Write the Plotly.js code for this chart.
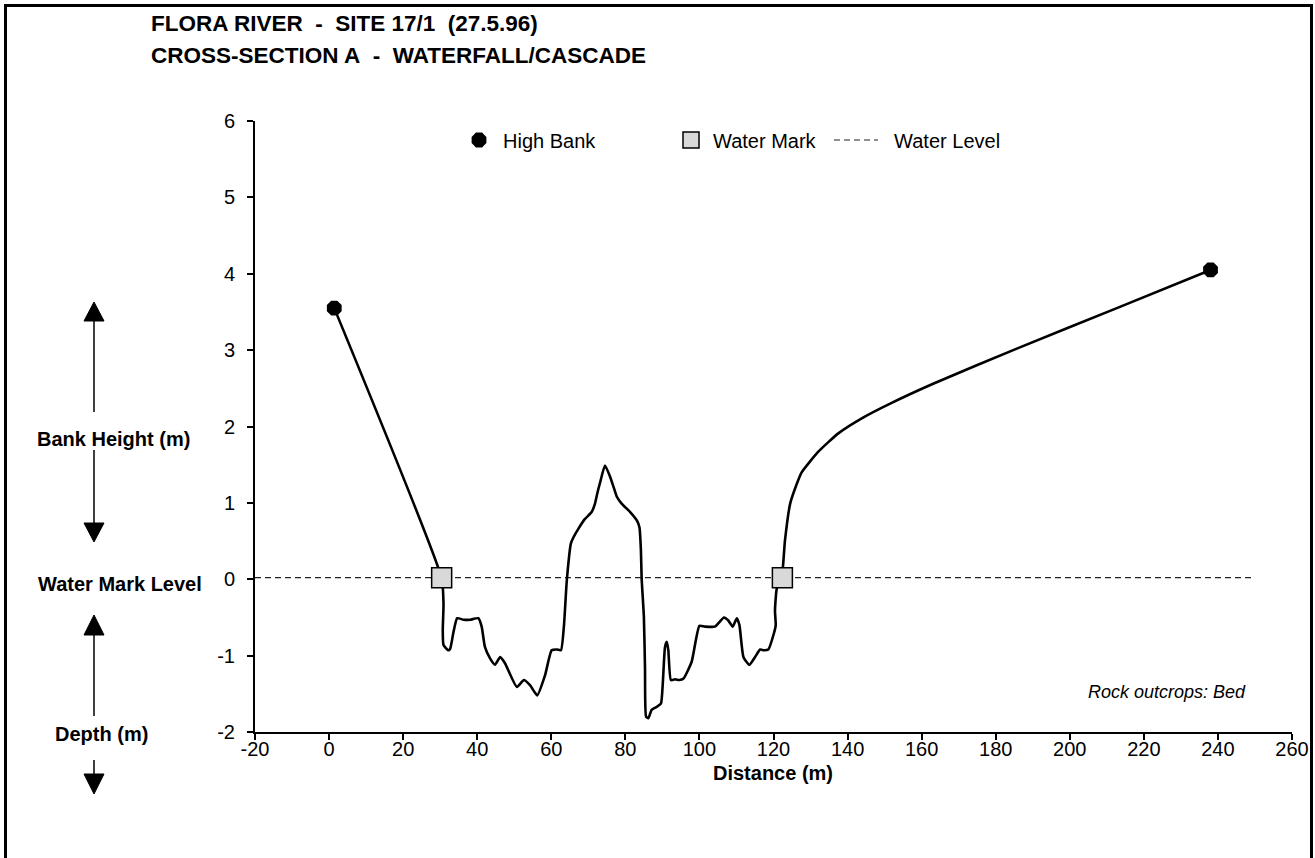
<!DOCTYPE html>
<html><head><meta charset="utf-8">
<script src="https://cdn.plot.ly/plotly-3.0.1.min.js"></script>
<style>html,body{margin:0;padding:0;background:#fff}#chart{width:1315px;height:858px}</style>
</head><body><div id="chart"></div><script>
// Cross-section profile (distance m, height relative to water mark m)
const profileX = [1.4, 30.4, 30.9, 30.7, 30.9, 32.2, 32.7, 33.6, 34.6, 36.3, 38.1, 40.3, 41.2, 42.1, 43.5, 44.8, 46.2, 47.5, 50.7, 52.6, 54.3, 56.2, 58.3, 60.1, 61.5, 62.6, 63.4, 64.2, 65.3, 66.0, 67.3, 69.1, 70.9, 71.8, 72.4, 73.2, 74.5, 75.9, 76.8, 77.7, 79.0, 81.3, 83.1, 83.8, 84.2, 84.4, 85.0, 85.3, 85.6, 86.2, 87.1, 88.5, 89.6, 90.1, 90.7, 91.2, 91.6, 92.3, 93.4, 94.6, 95.7, 97.9, 100.0, 101.5, 104.2, 105.6, 106.6, 107.8, 109.0, 110.1, 110.8, 111.9, 113.5, 115.0, 116.4, 117.4, 118.6, 120.1, 120.6, 120.4, 120.9, 122.2, 123.1, 124.5, 126.3, 127.6, 132.1, 137.5, 144.3, 151.5, 163.1, 185.7, 212.7, 238.0];
const profileY = [3.55, 0.01, -0.32, -0.67, -0.86, -0.93, -0.91, -0.69, -0.51, -0.53, -0.53, -0.51, -0.62, -0.89, -1.04, -1.12, -1.02, -1.10, -1.41, -1.32, -1.39, -1.52, -1.26, -0.93, -0.92, -0.93, -0.62, -0.01, 0.47, 0.55, 0.66, 0.79, 0.88, 0.99, 1.12, 1.27, 1.49, 1.34, 1.21, 1.08, 0.99, 0.88, 0.77, 0.68, 0.38, 0.01, -0.49, -1.15, -1.80, -1.82, -1.71, -1.67, -1.63, -1.37, -0.89, -0.82, -0.93, -1.32, -1.31, -1.32, -1.30, -1.08, -0.61, -0.62, -0.62, -0.55, -0.50, -0.54, -0.62, -0.51, -0.60, -1.02, -1.12, -1.02, -0.92, -0.93, -0.92, -0.71, -0.60, -0.41, -0.12, 0.01, 0.51, 0.99, 1.25, 1.40, 1.67, 1.91, 2.12, 2.30, 2.56, 3.02, 3.55, 4.05];
const highBankX = [1.4, 238.0];
const highBankY = [3.55, 4.05];
const waterMarkX = [30.4, 122.4];
const waterMarkY = [0.02, 0.02];
const waterLevelX = [-20, 250];
const waterLevelY = [0.02, 0.02];
const xTicks = [-20, 0, 20, 40, 60, 80, 100, 120, 140, 160, 180, 200, 220, 240, 260];
const yTicks = [-2, -1, 0, 1, 2, 3, 4, 5, 6];
const titleLines = ["FLORA RIVER&nbsp; - &nbsp;SITE 17/1&nbsp; (27.5.96)", "CROSS-SECTION A&nbsp; - &nbsp;WATERFALL/CASCADE"];

const FONT = "Arial, 'Liberation Sans', sans-serif";
const L = 255, R = 1292, T = 121, B = 732;
const px = p => (p - L) / (R - L);
const py = p => (B - p) / (B - T);

const traces = [
  {x: waterLevelX, y: waterLevelY, mode: 'lines', name: '&nbsp;&nbsp;Water Level', legend: 'legend3',
   line: {color: '#222', width: 1.2, dash: '6px,4px'}, hoverinfo: 'skip'},
  {x: profileX, y: profileY, mode: 'lines', name: 'Profile', showlegend: false,
   line: {color: '#000', width: 2.6, shape: 'spline', smoothing: 0.5}},
  {x: highBankX, y: highBankY, mode: 'markers', name: 'High Bank', legend: 'legend',
   marker: {symbol: 'octagon', size: 16, color: '#000'}},
  {x: waterMarkX, y: waterMarkY, mode: 'markers', name: 'Water Mark', legend: 'legend2',
   marker: {symbol: 'square', size: 20, color: '#d9d9d9', line: {color: '#000', width: 1.5}}}
];

function arrow(xc, yShaft, yBase, yApex) {
  return [
    {type: 'line', xref: 'paper', yref: 'paper', x0: px(xc), x1: px(xc), y0: py(yShaft), y1: py(yBase),
     line: {color: '#000', width: 1.5}},
    {type: 'path', xref: 'paper', yref: 'paper',
     path: `M ${px(xc)} ${py(yApex)} L ${px(xc - 10)} ${py(yBase)} L ${px(xc + 10)} ${py(yBase)} Z`,
     fillcolor: '#000', line: {color: '#000', width: 1}}
  ];
}

const shapes = [
  {type: 'rect', xref: 'paper', yref: 'paper', x0: px(5.5), x1: px(1311.5), y0: py(5.5), y1: py(880),
   line: {color: '#000', width: 3}},
  ...arrow(94, 412, 321, 302),
  ...arrow(94, 450, 523, 542),
  ...arrow(94, 716, 635, 615),
  ...arrow(94, 760, 774, 794)
];

function ann(text, x, y, opts) {
  return Object.assign({text: text, xref: 'paper', yref: 'paper', x: px(x), y: py(y),
    xanchor: 'center', yanchor: 'middle', showarrow: false,
    font: {family: FONT, size: 20, color: '#000'}}, opts || {});
}

const annotations = [
  ann('<b>' + titleLines[0] + '</b>', 149, 23, {xanchor: 'left', font: {family: FONT, size: 22.5, color: '#000'}}),
  ann('<b>' + titleLines[1] + '</b>', 149, 55, {xanchor: 'left', font: {family: FONT, size: 22.5, color: '#000'}}),
  ann('<b>Bank Height (m)</b>', 113, 439),
  ann('<b>Water Mark Level</b>', 120, 584),
  ann('<b>Depth (m)</b>', 101, 734),
  ann('<b>Distance (m)</b>', 773, 773),
  ann('<i>Rock outcrops: Bed</i>', 1248, 692, {xanchor: 'right', font: {family: FONT, size: 18, color: '#000'}})
];

const legBase = {orientation: 'h', xanchor: 'left', yanchor: 'middle', y: py(140),
  bgcolor: 'rgba(0,0,0,0)', font: {family: FONT, size: 20, color: '#000'}};

const axisBase = {showgrid: false, zeroline: false, showline: true, linecolor: '#000', linewidth: 2,
  ticks: 'outside', ticklen: 6, tickwidth: 2, tickcolor: '#000',
  tickfont: {family: FONT, size: 20, color: '#000'}, fixedrange: true};

const layout = {
  width: 1315, height: 858,
  margin: {l: L, r: 1315 - R, t: T, b: 858 - B},
  paper_bgcolor: '#fff', plot_bgcolor: '#fff',
  font: {family: FONT, color: '#000'},
  xaxis: Object.assign({}, axisBase, {range: [-20, 260], tickvals: xTicks, ticktext: xTicks.map(String), ticklabelstandoff: -8}),
  yaxis: Object.assign({}, axisBase, {range: [-2, 6], tickvals: yTicks, ticktext: yTicks.map(String), ticklabelstandoff: 8}),
  legend: Object.assign({}, legBase, {x: px(455), itemwidth: 38}),
  legend2: Object.assign({}, legBase, {x: px(669), itemwidth: 34}),
  legend3: Object.assign({}, legBase, {x: px(829), itemwidth: 44}),
  shapes: shapes,
  annotations: annotations,
  showlegend: true
};

Plotly.newPlot('chart', traces, layout, {displayModeBar: false, staticPlot: true});
</script></body></html>
